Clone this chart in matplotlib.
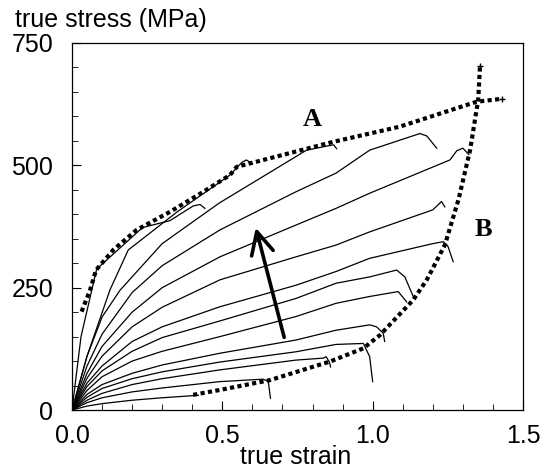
import numpy as np
import matplotlib.pyplot as plt

# true strain / true stress (MPa) of the flow curves, top to bottom
c1_x = [0, 0.03, 0.082, 0.235, 0.326, 0.403, 0.426, 0.442]
c1_y = [0, 150, 288, 373, 387, 417, 420, 412]
c2_x = [0, 0.05, 0.126, 0.187, 0.35, 0.525, 0.565, 0.58, 0.60]
c2_y = [0, 110, 245, 327, 405, 480, 506, 511, 503]
c3_x = [0, 0.05, 0.1, 0.16, 0.3, 0.49, 0.78, 0.87, 0.88]
c3_y = [0, 110, 190, 245, 340, 423, 531, 542, 534]
c4_x = [0, 0.05, 0.1, 0.2, 0.3, 0.492, 0.745, 0.878, 0.99, 1.157, 1.18, 1.213]
c4_y = [0, 90, 155, 240, 295, 368, 446, 484, 531, 565, 560, 535]
c5_x = [0, 0.05, 0.1, 0.2, 0.3, 0.492, 0.745, 0.878, 0.99, 1.257, 1.28, 1.30, 1.32]
c5_y = [0, 75, 130, 200, 250, 313, 378, 412, 443, 511, 530, 535, 522]
c6_x = [0, 0.05, 0.1, 0.2, 0.3, 0.492, 0.745, 0.878, 0.99, 1.20, 1.229, 1.24]
c6_y = [0, 65, 110, 170, 210, 266, 313, 337, 364, 409, 426, 415]
c7_x = [0, 0.05, 0.1, 0.2, 0.3, 0.492, 0.745, 0.878, 0.99, 1.20, 1.235, 1.25, 1.268]
c7_y = [0, 55, 90, 140, 170, 211, 255, 283, 310, 340, 344, 335, 303]
c8_x = [0, 0.05, 0.1, 0.2, 0.3, 0.492, 0.745, 0.878, 0.99, 1.08, 1.107, 1.135]
c8_y = [0, 48, 80, 120, 148, 182, 228, 259, 272, 286, 272, 232]
c9_x = [0, 0.05, 0.1, 0.2, 0.3, 0.492, 0.745, 0.878, 0.99, 1.085, 1.113]
c9_y = [0, 40, 68, 100, 120, 150, 191, 218, 232, 242, 221]
c10_x = [0, 0.05, 0.1, 0.2, 0.3, 0.492, 0.745, 0.878, 0.99, 1.013, 1.035, 1.04]
c10_y = [0, 32, 52, 75, 92, 116, 143, 163, 174, 170, 157, 140]
c11_x = [0, 0.05, 0.1, 0.2, 0.3, 0.492, 0.745, 0.878, 0.969, 0.99, 1.0]
c11_y = [0, 26, 44, 64, 78, 98, 119, 134, 136, 109, 58]
c12_x = [0, 0.05, 0.1, 0.2, 0.3, 0.492, 0.745, 0.836, 0.845, 0.856, 0.86]
c12_y = [0, 20, 34, 52, 64, 82, 102, 106, 109, 98, 88]
c13_x = [0, 0.05, 0.1, 0.2, 0.3, 0.492, 0.636, 0.653, 0.66]
c13_y = [0, 15, 25, 37, 45, 58, 63, 58, 24]
c14_x = [0, 0.05, 0.1, 0.2, 0.3, 0.42]
c14_y = [0, 8, 13, 20, 25, 30]

# envelope curves A and B
a_x = [0.032, 0.06, 0.08, 0.137, 0.215, 0.326, 0.437, 0.525, 0.548, 0.869, 1.09, 1.346, 1.43]
a_y = [201, 245, 286, 327, 368, 405, 446, 480, 497, 548, 579, 630, 636]
b_x = [0.403, 0.492, 0.658, 0.858, 0.969, 1.024, 1.135, 1.18, 1.24, 1.285, 1.324, 1.351, 1.357]
b_y = [31, 41, 61, 99, 126, 153, 225, 266, 337, 429, 531, 634, 702]

curves = [(c1_x, c1_y), (c2_x, c2_y), (c3_x, c3_y), (c4_x, c4_y), (c5_x, c5_y),
          (c6_x, c6_y), (c7_x, c7_y), (c8_x, c8_y), (c9_x, c9_y), (c10_x, c10_y),
          (c11_x, c11_y), (c12_x, c12_y), (c13_x, c13_y), (c14_x, c14_y)]

plt.rcParams['font.family'] = ['Liberation Sans', 'DejaVu Sans']

fig = plt.figure(figsize=(5.44, 4.75), dpi=100)
ax = fig.add_axes([72/544, 1-410/475, 451/544, 367/475])

for cx, cy in curves:
    ax.plot(cx, cy, color='black', lw=0.9)

for ex, ey in [(a_x, a_y), (b_x, b_y)]:
    ax.plot(ex, ey, color='black', lw=3.0, dashes=(1.0, 0.8), dash_capstyle='butt')
    ax.plot(ex[-1:], ey[-1:], marker='+', color='black', ms=4, mew=1)

ax.annotate('', xy=(0.609, 378), xytext=(0.708, 143),
            arrowprops=dict(arrowstyle='->', lw=2.6, color='black', mutation_scale=40))

ax.text(0.798, 593, 'A', family='Liberation Serif', weight='bold', fontsize=19,
        ha='center', va='center')
ax.text(1.367, 368, 'B', family='Liberation Serif', weight='bold', fontsize=19,
        ha='center', va='center')

ax.set_xlim(0, 1.5)
ax.set_ylim(0, 750)
ax.set_xticks([0, 0.5, 1.0, 1.5])
ax.set_xticklabels(['0.0', '0.5', '1.0', '1.5'])
ax.set_xticks(np.arange(0.1, 1.5, 0.1), minor=True)
ax.set_yticks([0, 250, 500, 750])
ax.set_yticks(np.arange(50, 750, 50), minor=True)
ax.tick_params(which='both', direction='in', top=False, right=False, labelsize=18)
ax.tick_params(axis='x', which='major', length=6.5, pad=10)
ax.tick_params(axis='y', which='major', length=6.5, pad=13.5)
ax.tick_params(which='minor', length=4.3)
for s in ax.spines.values():
    s.set_linewidth(0.9)

fig.text(15/544, 1-27/475, 'true stress (MPa)', fontsize=18, va='baseline', ha='left')
fig.text(296/544, 1-464/475, 'true strain', fontsize=18, va='baseline', ha='center')

fig.savefig('out.png', dpi=100)
